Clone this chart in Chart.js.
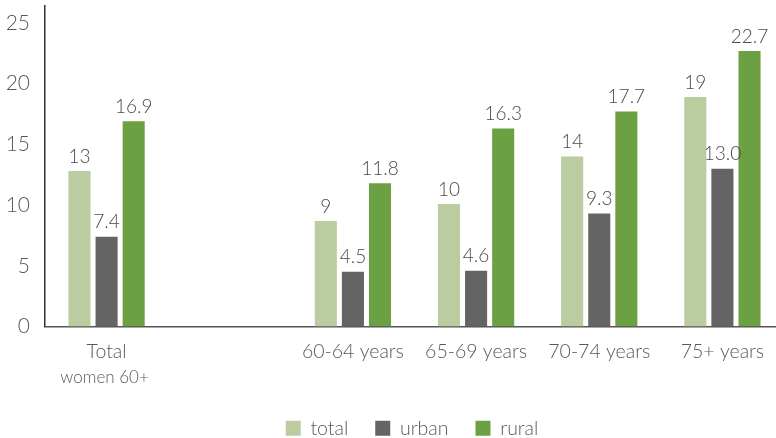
<!DOCTYPE html>
<html>
<head>
<meta charset="utf-8">
<script src="https://cdn.jsdelivr.net/npm/chart.js@4"></script>
<style>
  body { margin: 0; overflow: hidden; background: #fff; }
  #wrap { width: 784px; height: 438px; }
</style>
</head>
<body>
<div id="wrap"><canvas id="chart"></canvas></div>
<script>
// DATA
let categories = ["Total", "", "60-64 years", "65-69 years", "70-74 years", "75+ years"];
let subLabel = "women 60+";
let totalVals = [12.8, null, 8.7, 10.1, 14.0, 18.9];
let urbanVals = [7.4, null, 4.5, 4.6, 9.3, 13.0];
let ruralVals = [16.9, null, 11.8, 16.3, 17.7, 22.7];
let seriesNames = ["total", "urban", "rural"];
let yTicks = [0, 5, 10, 15, 20, 25];

let font = "Lato";
let textColor = "#595959";

// DATA LABELS ABOVE BARS + second line of first category
let barLabels = {
    id: "barLabels",
    afterLayout(chart) {
        // nudge legend to where it sits in the original
        let lg = chart.legend;
        lg.left += 20; lg.right += 20;
        lg.top += 10; lg.bottom += 10;
    },
    afterDatasetsDraw(chart) {
        let ctx = chart.ctx;
        ctx.save();
        ctx.font = "300 19px " + font;
        ctx.fillStyle = "#4a4a4a";
        ctx.textAlign = "center";
        ctx.textBaseline = "bottom";
        chart.data.datasets.forEach((ds, i) => {
            let meta = chart.getDatasetMeta(i);
            meta.data.forEach((bar, j) => {
                let v = ds.data[j];
                if (v == null) return;
                let txt = i == 0 ? String(Math.round(v)) : v.toFixed(1);
                ctx.fillText(txt, bar.x, bar.y - 5);
            });
        });
        let x = chart.scales.x.getPixelForValue(0);
        ctx.font = "300 17px " + font;
        ctx.fillStyle = textColor;
        ctx.textBaseline = "middle";
        ctx.fillText(subLabel, x - 2, 378);
        ctx.restore();
    }
};

new Chart(document.getElementById("chart"), {
    type: "bar",
    data: {
        labels: categories,
        datasets: [
            { label: seriesNames[0], data: totalVals, backgroundColor: "#bacca0" },
            { label: seriesNames[1], data: urbanVals, backgroundColor: "#646464" },
            { label: seriesNames[2], data: ruralVals, backgroundColor: "#6ba143" }
        ]
    },
    options: {
        responsive: true,
        maintainAspectRatio: false,
        animation: false,
        layout: { padding: { top: 6, right: 0, left: 0, bottom: 0 } },
        datasets: {
            bar: { categoryPercentage: 0.66, barPercentage: 0.815 }
        },
        scales: {
            x: {
                grid: { display: false, drawTicks: false },
                border: { color: "#555", width: 1.5 },
                ticks: { color: textColor, font: { family: font, size: 19.5, weight: 300 }, padding: 14, maxRotation: 0 },
                afterFit(s) { s.height = 55; s.paddingLeft = 0; s.paddingRight = 0; }
            },
            y: {
                min: 0,
                max: 26.4,
                grid: { display: false, drawTicks: false },
                border: { color: "#333", width: 1.5 },
                afterBuildTicks(s) { s.ticks = yTicks.map(v => ({ value: v })); },
                ticks: { color: textColor, font: { family: font, size: 21, weight: 300 }, padding: 15 },
                afterFit(s) { s.width = 45; s.paddingTop = 0; s.paddingBottom = 0; }
            }
        },
        plugins: {
            legend: {
                position: "bottom",
                labels: {
                    color: textColor,
                    font: { family: font, size: 19.5, weight: 300 },
                    boxWidth: 15,
                    boxHeight: 15,
                    padding: 27
                }
            },
            tooltip: { enabled: false }
        }
    },
    plugins: [barLabels]
});
</script>
</body>
</html>
